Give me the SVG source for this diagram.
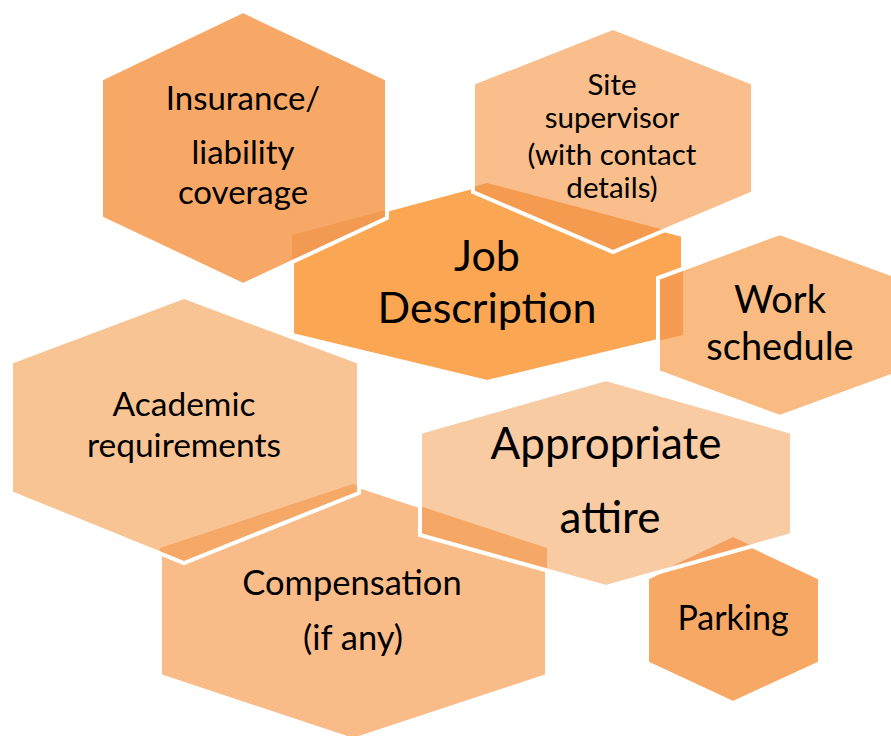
<svg xmlns="http://www.w3.org/2000/svg" width="891" height="736" viewBox="0 0 891 736">
<style>
.hex{stroke:#FFFFFF;stroke-width:4;stroke-linejoin:miter}
.edge{fill:none;stroke:#FFFFFF;stroke-width:4}
text{font-family:Lato,"Liberation Sans",sans-serif;fill:#000000;text-anchor:middle}
</style>
<defs>
<polygon id="pJob" points="487,183 683,235 683,335 487,382 292,335 292,235"/>
<polygon id="pIns" points="243,11 387,79 387,218 243,285 101,218 101,79"/>
<polygon id="pSite" points="613,28 753,83 753,193 613,252 473,192 473,83"/>
<polygon id="pWork" points="780,233 902,278 902,372 780,417 658,372 658,278"/>
<polygon id="pAcad" points="184,297 359,362 359,493 184,563 11,493 11,362"/>
<polygon id="pComp" points="353,484 547,548 547,676 353,740 160,676 160,548"/>
<polygon id="pAtt" points="606,379 792,432 792,535 606,587 420,535 420,432"/>
<polygon id="pPark" points="733,537 820,578 820,663 733,703 647,663 647,578"/>
<clipPath id="cIns"><use href="#pIns"/></clipPath>
<clipPath id="cSite"><use href="#pSite"/></clipPath>
<clipPath id="cWork"><use href="#pWork"/></clipPath>
<clipPath id="cAcad"><use href="#pAcad"/></clipPath>
<clipPath id="cAtt"><use href="#pAtt"/></clipPath>
</defs>
<rect width="891" height="736" fill="#FFFFFF"/>

<g id="node-job">
<use href="#pJob" class="hex" fill="#FBA652"/>
<text font-size="43"><tspan x="487" y="271">Job</tspan><tspan x="487" y="323">Description</tspan></text>
</g>

<g id="node-compensation">
<use href="#pComp" class="hex" fill="#F9BC88"/>
<text font-size="34.5"><tspan x="352" y="595">Compensation</tspan><tspan x="353" y="650">(if any)</tspan></text>
</g>

<g id="node-parking">
<use href="#pPark" class="hex" fill="#F8A865"/>
<text font-size="34" x="733" y="630">Parking</text>
</g>

<g id="node-insurance">
<use href="#pIns" fill="#F8A866"/>
<use href="#pJob" fill="#F29A52" clip-path="url(#cIns)"/>
<use href="#pIns" class="edge"/>
<text font-size="33"><tspan x="243" y="110">Insurance/</tspan><tspan x="243" y="164">liability</tspan><tspan x="243" y="204">coverage</tspan></text>
</g>

<g id="node-site">
<use href="#pSite" fill="#F9BE8B"/>
<use href="#pJob" fill="#F49B4F" clip-path="url(#cSite)"/>
<use href="#pSite" class="edge"/>
<text font-size="29.5"><tspan x="612" y="95">Site</tspan><tspan x="612" y="128">supervisor</tspan><tspan x="612" y="165">(with contact</tspan><tspan x="612" y="198">details)</tspan></text>
</g>

<g id="node-work">
<use href="#pWork" fill="#F9BB82"/>
<use href="#pJob" fill="#F59C52" clip-path="url(#cWork)"/>
<use href="#pWork" class="edge"/>
<text font-size="38"><tspan x="780" y="313">Work</tspan><tspan x="780" y="360">schedule</tspan></text>
</g>

<g id="node-academic">
<use href="#pAcad" fill="#F9C493"/>
<use href="#pJob" fill="#F59F57" clip-path="url(#cAcad)"/>
<use href="#pComp" fill="#F6A866" clip-path="url(#cAcad)"/>
<use href="#pAcad" class="edge"/>
<text font-size="33.5"><tspan x="184" y="416">Academic</tspan><tspan x="184" y="457">requirements</tspan></text>
</g>

<g id="node-attire">
<use href="#pAtt" fill="#F8CBA3"/>
<use href="#pComp" fill="#F5A865" clip-path="url(#cAtt)"/>
<use href="#pPark" fill="#F6A060" clip-path="url(#cAtt)"/>
<use href="#pAtt" class="edge"/>
<text font-size="44"><tspan x="606" y="459">Appropriate</tspan><tspan x="610" y="533">attire</tspan></text>
</g>

<g id="connectors"></g>
</svg>
